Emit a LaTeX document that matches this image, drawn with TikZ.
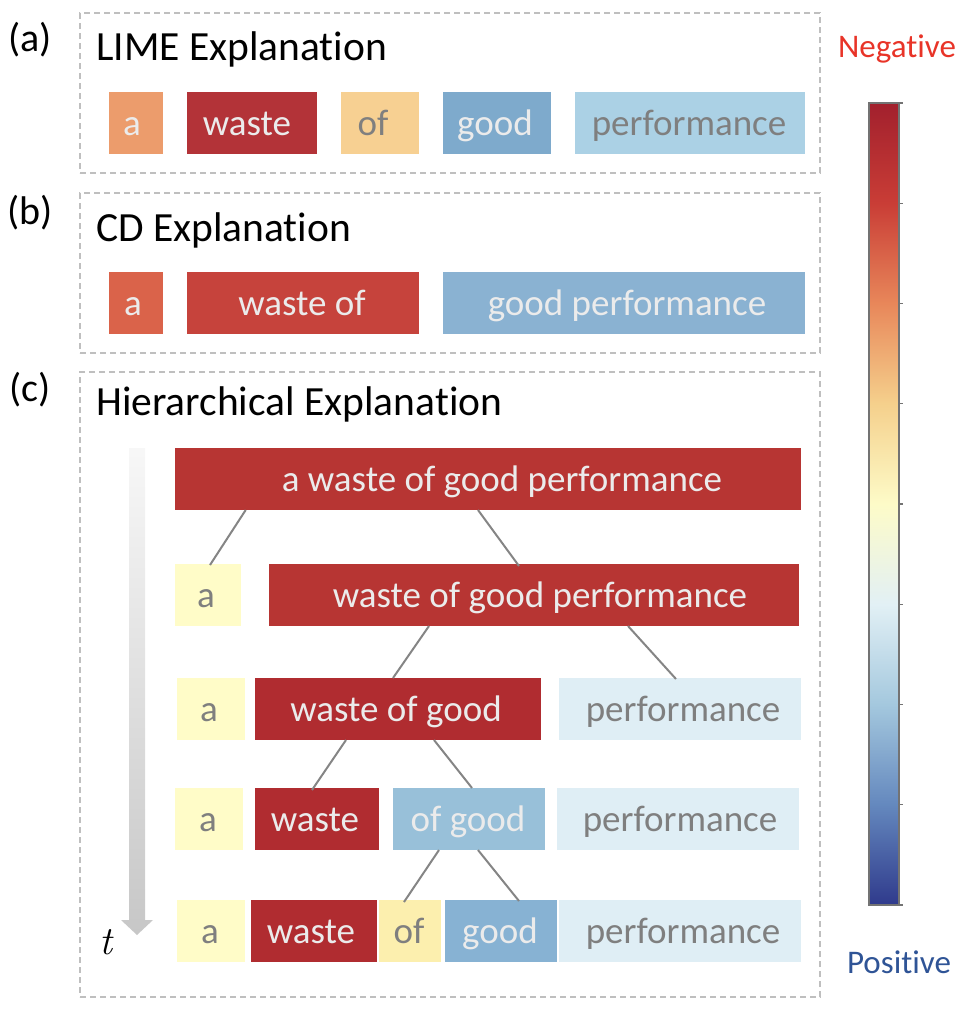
\documentclass[tikz,border=0pt]{standalone}
\usepackage{fontspec}
\setmainfont{Carlito}[Ligatures=NoCommon]
\newfontfamily\lmroman{Latin Modern Roman}
\usetikzlibrary{calc}
\definecolor{dashgray}{HTML}{BFBFBF}
\definecolor{lighttext}{HTML}{EBEBEB}
\definecolor{graytext}{HTML}{7F7F7F}
\definecolor{conngray}{HTML}{858585}
\definecolor{negred}{HTML}{E83428}
\definecolor{posblue}{HTML}{2F5496}
% box fills
\definecolor{aA}{HTML}{EC9C6C}
\definecolor{aW}{HTML}{B33338}
\definecolor{aO}{HTML}{F7D092}
\definecolor{aG}{HTML}{7EAACC}
\definecolor{aP}{HTML}{ABD1E5}
\definecolor{bA}{HTML}{DA634A}
\definecolor{bW}{HTML}{C6433C}
\definecolor{bG}{HTML}{8AB2D2}
\definecolor{hR}{HTML}{B73533}
\definecolor{hY}{HTML}{FFFCC8}
\definecolor{hD}{HTML}{B02C30}
\definecolor{hL}{HTML}{DFEEF5}
\definecolor{hB}{HTML}{98C0D9}
\definecolor{hO}{HTML}{FCEFAE}
\definecolor{hG}{HTML}{87B2D3}
% colorbar
\definecolor{cb0}{HTML}{A2202D}
\definecolor{cb1}{HTML}{C93D36}
\definecolor{cb2}{HTML}{E8875A}
\definecolor{cb3}{HTML}{F5D08C}
\definecolor{cb4}{HTML}{FDFBC8}
\definecolor{cb5}{HTML}{E2F0F5}
\definecolor{cb6}{HTML}{A4C8DE}
\definecolor{cb7}{HTML}{6488BE}
\definecolor{cb8}{HTML}{2F3A8C}
\tikzset{
  panel/.style={draw=dashgray, line width=2pt, dash pattern=on 6pt off 4pt, inner sep=0pt},
  wordbox/.style={draw=none, inner sep=0pt, outer sep=0pt},
  wordtext/.style={inner sep=0pt, font=\fontsize{37}{40}\selectfont, anchor=base},
  heading/.style={inner sep=0pt, font=\fontsize{41.5}{44}\selectfont, anchor=base west},
  panellabel/.style={inner sep=0pt, font=\fontsize{40}{44}\selectfont, anchor=base},
  conn/.style={draw=conngray, line width=2pt},
  cbar/.style={inner sep=0pt, font=\fontsize{33}{36}\selectfont, anchor=base},
}
% name, x1, y1, x2, y2, fill, text colour, text centre x, text
\newcommand{\wbx}[9]{%
  \node[wordbox, fill=#6, minimum width={(#4-#2)*1pt}, minimum height={(#5-#3)*1pt}] (#1) at ({(#2+#4)/2},{(#3+#5)/2}) {};
  \node[wordtext, text=#7] (#1-t) at (#8,{#3+43.5}) {#9};}
\begin{document}
\begin{tikzpicture}[x=1pt,y=-1pt]
\useasboundingbox (0,0) rectangle (962,1010);
% panels
\node[panel, minimum width=740pt, minimum height=160pt] (pa) at (450,93) {};
\node[panel, minimum width=740pt, minimum height=160pt] (pb) at (450,273) {};
\node[panel, minimum width=740pt, minimum height=625pt] (pc) at (450,684.5) {};
\node[panellabel] (la) at (30,51) {(a)};
\node[panellabel] (lb) at (30,224) {(b)};
\node[panellabel] (lc) at (30,401) {(c)};
\node[heading] (ha) at (96,60) {LIME Explanation};
\node[heading] (hb) at (96,241) {CD Explanation};
\node[heading] (hc) at (96,415) {Hierarchical Explanation};
% (a)
\wbx{a1}{109}{92}{163}{154}{aA}{lighttext}{132}{a}
\wbx{a2}{187}{92}{317}{154}{aW}{lighttext}{247}{waste}
\wbx{a3}{341}{92}{419}{154}{aO}{graytext}{373}{of}
\wbx{a4}{443}{92}{551}{154}{aG}{lighttext}{495}{good}
\wbx{a5}{575}{92}{805}{154}{aP}{graytext}{689}{performance}
% (b)
\wbx{b1}{109}{272}{163}{334}{bA}{lighttext}{133}{a}
\wbx{b2}{187}{272}{419}{334}{bW}{lighttext}{302}{waste of}
\wbx{b3}{443}{272}{805}{334}{bG}{lighttext}{627}{good performance}
% (c) rows
\wbx{r1}{175}{448}{801}{510}{hR}{lighttext}{502}{a waste of good performance}
\wbx{r2a}{175}{564}{241}{626}{hY}{graytext}{206}{a}
\wbx{r2b}{269}{564}{799}{626}{hR}{lighttext}{540}{waste of good performance}
\wbx{r3a}{177}{678}{245}{740}{hY}{graytext}{209}{a}
\wbx{r3b}{255}{678}{541}{740}{hD}{lighttext}{396}{waste of good}
\wbx{r3c}{559}{678}{801}{740}{hL}{graytext}{683}{performance}
\wbx{r4a}{175}{788}{243}{850}{hY}{graytext}{208}{a}
\wbx{r4b}{255}{788}{379}{850}{hD}{lighttext}{315}{waste}
\wbx{r4c}{393}{788}{545}{850}{hB}{lighttext}{468}{of good}
\wbx{r4d}{557}{788}{799}{850}{hL}{graytext}{680}{performance}
\wbx{r5a}{177}{900}{245}{962}{hY}{graytext}{210}{a}
\wbx{r5b}{251}{900}{377}{962}{hD}{lighttext}{311}{waste}
\wbx{r5c}{379}{900}{441}{962}{hO}{graytext}{409}{of}
\wbx{r5d}{445}{900}{557}{962}{hG}{lighttext}{500}{good}
\wbx{r5e}{559}{900}{801}{962}{hL}{graytext}{683}{performance}
% connectors
\draw[conn] ([xshift=70.7pt]r1.south west) -- ([xshift=35pt,yshift=-1pt]r2a.north west);
\draw[conn] ([xshift=303pt]r1.south west) -- ([xshift=250pt,yshift=-2pt]r2b.north west);
\draw[conn] ([xshift=160pt]r2b.south west) -- ([xshift=138pt]r3b.north west);
\draw[conn] ([xshift=359pt]r2b.south west) -- ([xshift=117pt,yshift=-1pt]r3c.north west);
\draw[conn] ([xshift=91pt]r3b.south west) -- ([xshift=57pt,yshift=-2pt]r4b.north west);
\draw[conn] ([xshift=179pt]r3b.south west) -- ([xshift=79pt]r4c.north west);
\draw[conn] ([xshift=46pt]r4c.south west) -- ([xshift=25pt,yshift=-2pt]r5c.north west);
\draw[conn] ([xshift=85pt]r4c.south west) -- ([xshift=74pt,yshift=-1pt]r5d.north west);
% time arrow
\shade[top color=black!3, bottom color=black!22]
  (129,448) -- (145,448) -- (145,920) -- (153,920) -- (137,935) -- (121,920) -- (129,920) -- cycle;
\node[inner sep=0pt, font=\lmroman\itshape\fontsize{40}{44}\selectfont, anchor=base] (tlabel) at (106,954) {t};
% colorbar
\shade[top color=cb0, bottom color=cb1] (869,103) rectangle (899,203.25);
\shade[top color=cb1, bottom color=cb2] (869,203.25) rectangle (899,303.5);
\shade[top color=cb2, bottom color=cb3] (869,303.5) rectangle (899,403.75);
\shade[top color=cb3, bottom color=cb4] (869,403.75) rectangle (899,504);
\shade[top color=cb4, bottom color=cb5] (869,504) rectangle (899,604.25);
\shade[top color=cb5, bottom color=cb6] (869,604.25) rectangle (899,704.5);
\shade[top color=cb6, bottom color=cb7] (869,704.5) rectangle (899,804.75);
\shade[top color=cb7, bottom color=cb8] (869,804.75) rectangle (899,905);
\draw[black!55, line width=1.2pt] (869,103) rectangle (899,905);
\foreach \k in {0,...,8} \draw[black!55, line width=1.2pt] (899,{103+\k*100.25}) -- ++(4,0);
\node[cbar, text=negred] (neg) at (897,57) {Negative};
\node[cbar, text=posblue] (pos) at (899,973) {Positive};
\end{tikzpicture}
\end{document}
